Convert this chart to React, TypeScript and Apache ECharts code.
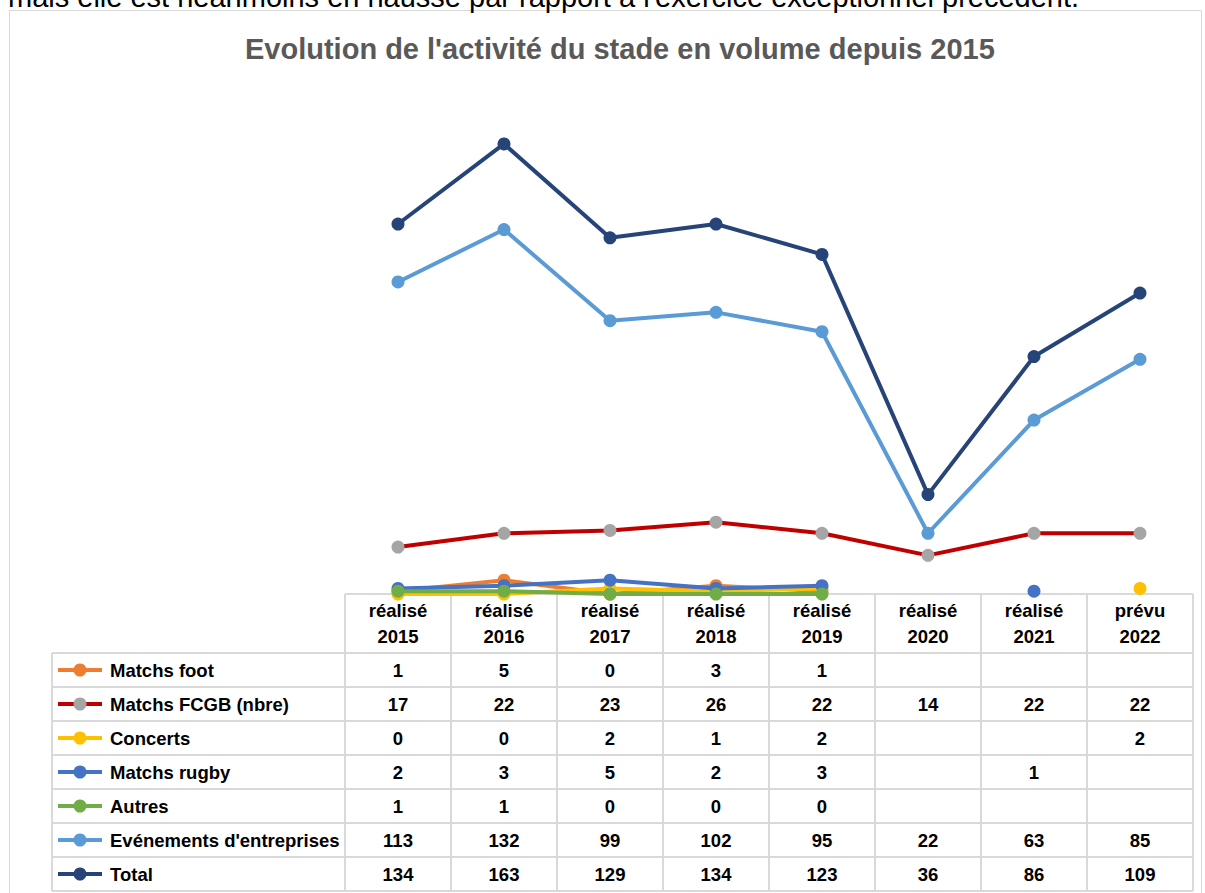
import React, { useEffect, useRef } from "react";
import * as echarts from "echarts";

const periods = ["réalisé", "réalisé", "réalisé", "réalisé", "réalisé", "réalisé", "réalisé", "prévu"];
const years = ["2015", "2016", "2017", "2018", "2019", "2020", "2021", "2022"];

const seriesNames = [
  "Matchs foot",
  "Matchs FCGB (nbre)",
  "Concerts",
  "Matchs rugby",
  "Autres",
  "Evénements d'entreprises",
  "Total",
];

const matchsFoot = [1, 5, 0, 3, 1, null, null, null];
const matchsFCGB = [17, 22, 23, 26, 22, 14, 22, 22];
const concerts = [0, 0, 2, 1, 2, null, null, 2];
const matchsRugby = [2, 3, 5, 2, 3, null, 1, null];
const autres = [1, 1, 0, 0, 0, null, null, null];
const evenements = [113, 132, 99, 102, 95, 22, 63, 85];
const total = [134, 163, 129, 134, 123, 36, 86, 109];

const seriesData = [matchsFoot, matchsFCGB, concerts, matchsRugby, autres, evenements, total];
const lineColors = ["#ED7D31", "#C00000", "#FFC000", "#4472C4", "#70AD47", "#5B9BD5", "#264478"];
const markerColors = ["#ED7D31", "#A5A5A5", "#FFC000", "#4472C4", "#70AD47", "#5B9BD5", "#264478"];

const titleText = "Evolution de l'activité du stade en volume depuis 2015";
const topText = "mais elle est néanmoins en hausse par rapport à l'exercice exceptionnel précédent.";

const FONT = "'Liberation Sans', Arial, sans-serif";

export default function App() {
  const ref = useRef<HTMLDivElement>(null);
  useEffect(() => {
    if (!ref.current) return;
    const chart = echarts.init(ref.current, null, { renderer: "svg" });

    const gridLeft = 345;
    const gridRight = 1193;
    const axisY = 594;
    const colW = (gridRight - gridLeft) / years.length;
    const rowTop = 653;
    const rowH = 34;
    const tableLeft = 52;
    const lineStyle = { stroke: "#D9D9D9", lineWidth: 2 };

    const graphics: any[] = [];
    graphics.push({
      type: "rect",
      shape: { x: 9.5, y: 10.5, width: 1192, height: 900 },
      style: { fill: "none", stroke: "#D9D9D9", lineWidth: 1 },
      silent: true,
    });
    graphics.push({
      type: "text",
      x: 8,
      y: 11,
      style: { text: topText, font: `29px ${FONT}`, fill: "#000", verticalAlign: "bottom" },
    });
    graphics.push({
      type: "line",
      shape: { x1: gridLeft, y1: axisY, x2: gridRight, y2: axisY },
      style: lineStyle,
    });
    for (let r = 0; r <= seriesNames.length; r++) {
      const y = rowTop + r * rowH;
      graphics.push({
        type: "line",
        shape: { x1: tableLeft, y1: y, x2: gridRight, y2: y },
        style: lineStyle,
      });
    }
    const tableBottom = rowTop + seriesNames.length * rowH;
    graphics.push({
      type: "line",
      shape: { x1: tableLeft, y1: rowTop, x2: tableLeft, y2: tableBottom },
      style: lineStyle,
    });
    for (let c = 0; c <= years.length; c++) {
      const x = gridLeft + c * colW;
      graphics.push({
        type: "line",
        shape: { x1: x, y1: axisY, x2: x, y2: tableBottom },
        style: lineStyle,
      });
    }
    seriesNames.forEach((name, r) => {
      const cy = rowTop + r * rowH + rowH / 2;
      graphics.push({
        type: "line",
        shape: { x1: 58, y1: cy, x2: 102, y2: cy },
        style: { stroke: lineColors[r], lineWidth: 4 },
      });
      graphics.push({
        type: "circle",
        shape: { cx: 80, cy, r: 6.5 },
        style: { fill: markerColors[r] },
      });
      graphics.push({
        type: "text",
        x: 110,
        y: cy,
        style: {
          text: name,
          font: `bold 18.5px ${FONT}`,
          fill: "#000",
          verticalAlign: "middle",
          align: "left",
        },
      });
      seriesData[r].forEach((v, c) => {
        if (v === null) return;
        graphics.push({
          type: "text",
          x: gridLeft + c * colW + colW / 2,
          y: cy,
          style: {
            text: String(v),
            font: `bold 18.5px ${FONT}`,
            fill: "#000",
            align: "center",
            verticalAlign: "middle",
          },
        });
      });
    });

    chart.setOption({
      animation: false,
      title: {
        text: titleText,
        left: 240,
        top: 29,
        textStyle: { fontFamily: FONT, fontSize: 29, fontWeight: "bold", color: "#595959" },
      },
      grid: { left: gridLeft, right: 1205 - gridRight, top: 97, bottom: 893 - axisY },
      xAxis: {
        type: "category",
        data: years.map((y, i) => `${periods[i]}\n${y}`),
        boundaryGap: true,
        axisLine: { show: false },
        axisTick: { show: false },
        axisLabel: {
          margin: 3,
          fontFamily: FONT,
          fontSize: 18.5,
          fontWeight: "bold",
          color: "#000",
          lineHeight: 26,
        },
      },
      yAxis: { type: "value", min: 0, max: 180, show: false, splitLine: { show: false } },
      series: seriesNames.map((name, i) => ({
        name,
        type: "line",
        data: seriesData[i],
        symbol: "circle",
        symbolSize: 13,
        showSymbol: true,
        connectNulls: false,
        lineStyle: { color: lineColors[i], width: 4 },
        itemStyle: { color: markerColors[i] },
        z: 2 + i,
      })),
      graphic: graphics,
    });
    return () => chart.dispose();
  }, []);
  return (
    <div
      ref={ref}
      style={{ position: "absolute", left: 0, top: 0, width: 1205, height: 893, background: "#fff" }}
    />
  );
}
